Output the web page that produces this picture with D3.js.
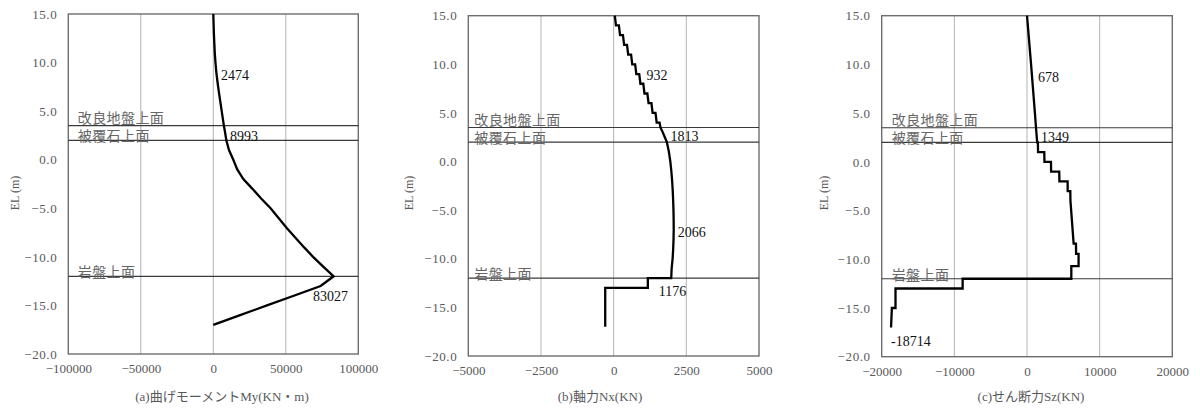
<!DOCTYPE html>
<html><head><meta charset="utf-8">
<script src="https://cdn.jsdelivr.net/npm/d3@7"></script>
<style>body{margin:0;background:#fff}svg{display:block}</style>
</head><body><svg id="chart" width="1200" height="409"></svg>
<script>
// ---- shared ----
const yTicks = [15, 10, 5, 0, -5, -10, -15, -20];
const levelEL = [3.5, 2.0, -12.0];
const levelNames = ["改良地盤上面", "被覆石上面", "岩盤上面"];
const yTitle = "EL (m)";

// ---- (a) bending moment ----
const titleA = "(a)曲げモーメントMy(KN・m)";
const xTicksA = [-100000, -50000, 0, 50000, 100000];
const elA = [15, 14, 13, 12, 11, 10, 9, 8, 7, 6, 5, 4, 3.5, 3, 2, 1, 0, -1, -2, -3, -4, -5, -6, -7, -8, -9, -10, -11, -12, -13, -14, -15, -16, -17];
const myA = [0, 200, 400, 700, 1000, 1500, 2100, 2900, 3800, 4800, 5800, 6800, 7300, 7900, 9000, 10800, 13800, 16500, 20700, 27000, 33000, 39500, 45000, 50500, 56500, 62500, 68800, 75800, 83027, 74000, 55500, 37000, 18500, 0];
const labelTextA = ["2474", "8993", "83027"];
const labelValA = [5300, 11500, 68800];
const labelELA = [8.7, 2.4, -14.1];

// ---- (b) axial force ----
const titleB = "(b)軸力Nx(KN)";
const xTicksB = [-5000, -2500, 0, 2500, 5000];
const elB = [15, 14, 14, 13, 13, 12, 12, 11, 11, 10, 10, 9, 9, 8, 8, 7, 7, 6, 6, 5, 5, 4, 4, 3.5, 3, 2.5, 2, 1, 0, -1, -2, -3, -4, -5, -6, -7, -8, -9, -10, -11, -12, -12, -13, -13, -17];
const nxB = [40, 80, 180, 220, 320, 360, 460, 500, 600, 640, 740, 780, 880, 920, 1020, 1060, 1160, 1200, 1300, 1340, 1440, 1480, 1580, 1610, 1690, 1760, 1830, 1900, 1950, 1985, 2012, 2032, 2047, 2058, 2064, 2066, 2060, 2048, 2028, 1995, 1980, 1176, 1176, -290, -290];
const labelTextB = ["932", "1813", "2066", "1176"];
const labelValB = [1128, 1956, 2208, 1553];
const labelELB = [8.8, 2.55, -7.3, -13.4];

// ---- (c) shear force ----
const titleC = "(c)せん断力Sz(KN)";
const xTicksC = [-20000, -10000, 0, 10000, 20000];
const elC = [15, 10, 5, 3.5, 2, 2, 1, 1, 0, 0, -1, -1, -2, -2, -3, -3, -4, -8.4, -8.4, -9.45, -9.45, -10.7, -10.7, -12, -12, -13, -13, -15, -15, -17];
const szC = [0, 560, 1090, 1240, 1400, 1500, 1520, 2380, 2400, 3300, 3320, 4440, 4460, 5590, 5600, 5960, 5980, 6420, 6740, 6760, 7100, 7100, 6100, 6100, -8860, -8860, -18100, -18100, -18600, -18714];
const labelTextC = ["678", "1349", "-18714"];
const labelValC = [1513, 1926, -18710];
const labelELC = [8.7, 2.5, -18.4];

const svg = d3.select("#chart");
const numFont = "'Liberation Serif','Noto Sans CJK JP',serif";
const grey = "#595959";
const fmtY = v => d3.format(".1f")(v).replace("-", "\u2212");
const fmtX = v => String(v).replace("-", "\u2212");

const panels = [
  {title: titleA, xTicks: xTicksA, el: elA, val: myA, lt: labelTextA, lv: labelValA, le: labelELA,
   L: 68.3, R: 358.3, T: 14, B: 354, titleX: 222, yTitleX: 16, lvlOff: 9.5},
  {title: titleB, xTicks: xTicksB, el: elB, val: nxB, lt: labelTextB, lv: labelValB, le: labelELB,
   L: 468.3, R: 759, T: 15.7, B: 356, titleX: 600, yTitleX: 410, lvlOff: 6},
  {title: titleC, xTicks: xTicksC, el: elC, val: szC, lt: labelTextC, lv: labelValC, le: labelELC,
   L: 881.7, R: 1172.3, T: 15.7, B: 356.7, titleX: 1031, yTitleX: 825, lvlOff: 10}
];

panels.forEach(p => {
  const x = d3.scaleLinear().domain([p.xTicks[0], p.xTicks[p.xTicks.length - 1]]).range([p.L, p.R]);
  const y = d3.scaleLinear().domain([15, -20]).range([p.T, p.B]);
  const g = svg.append("g");

  g.selectAll(".vg").data(p.xTicks.slice(1, -1)).enter().append("line")
    .attr("x1", d => x(d)).attr("x2", d => x(d)).attr("y1", p.T).attr("y2", p.B)
    .attr("stroke", "#b3b3b3").attr("stroke-width", 1);

  g.append("rect").attr("x", p.L).attr("y", p.T).attr("width", p.R - p.L).attr("height", p.B - p.T)
    .attr("fill", "none").attr("stroke", "#6e6e6e").attr("stroke-width", 1.4);

  g.selectAll(".lv").data(levelEL).enter().append("line")
    .attr("x1", p.L).attr("x2", p.R).attr("y1", d => y(d)).attr("y2", d => y(d))
    .attr("stroke", "#3a3a3a").attr("stroke-width", 1.2);
  g.selectAll(".lvt").data(levelEL).enter().append("text")
    .attr("x", p.L + p.lvlOff).attr("y", (d, i) => y(d) + (i === 0 ? -2.5 : 1))
    .attr("font-family", "'Noto Sans CJK JP',sans-serif").attr("font-size", 14)
    .attr("letter-spacing", 0.4)
    .attr("fill", "#666").text((d, i) => levelNames[i]);

  const ya = d3.axisLeft(y).tickValues(yTicks).tickFormat(fmtY).tickSize(0).tickPadding(11);
  const yg = g.append("g").attr("transform", `translate(${p.L},0)`).call(ya);
  yg.select(".domain").remove();
  yg.selectAll("text").attr("font-family", numFont).attr("font-size", 13).attr("fill", grey).attr("letter-spacing", 0.6);

  const xa = d3.axisBottom(x).tickValues(p.xTicks).tickFormat(fmtX).tickSize(0).tickPadding(10);
  const xg = g.append("g").attr("transform", `translate(0,${p.B})`).call(xa);
  xg.select(".domain").remove();
  xg.selectAll("text").attr("font-family", numFont).attr("font-size", 13).attr("fill", grey);

  g.append("text").attr("transform", `translate(${p.yTitleX},193) rotate(-90)`)
    .attr("text-anchor", "middle").attr("dominant-baseline", "middle")
    .attr("font-family", numFont).attr("font-size", 12).attr("fill", grey).text(yTitle);

  g.append("text").attr("x", p.titleX).attr("y", 401).attr("text-anchor", "middle")
    .attr("font-family", numFont).attr("font-size", 13).attr("fill", grey).text(p.title);

  const pts = p.el.map((e, i) => [p.val[i], e]);
  g.append("path").datum(pts)
    .attr("d", d3.line().x(d => x(d[0])).y(d => y(d[1])))
    .attr("fill", "none").attr("stroke", "#000").attr("stroke-width", 2.3).attr("stroke-linejoin", "miter");

  g.selectAll(".vl").data(p.lt).enter().append("text")
    .attr("x", (d, i) => x(p.lv[i])).attr("y", (d, i) => y(p.le[i]))
    .attr("dominant-baseline", "central")
    .attr("font-family", numFont).attr("font-size", 14).attr("fill", "#111").text(d => d);
});
</script></body></html>
